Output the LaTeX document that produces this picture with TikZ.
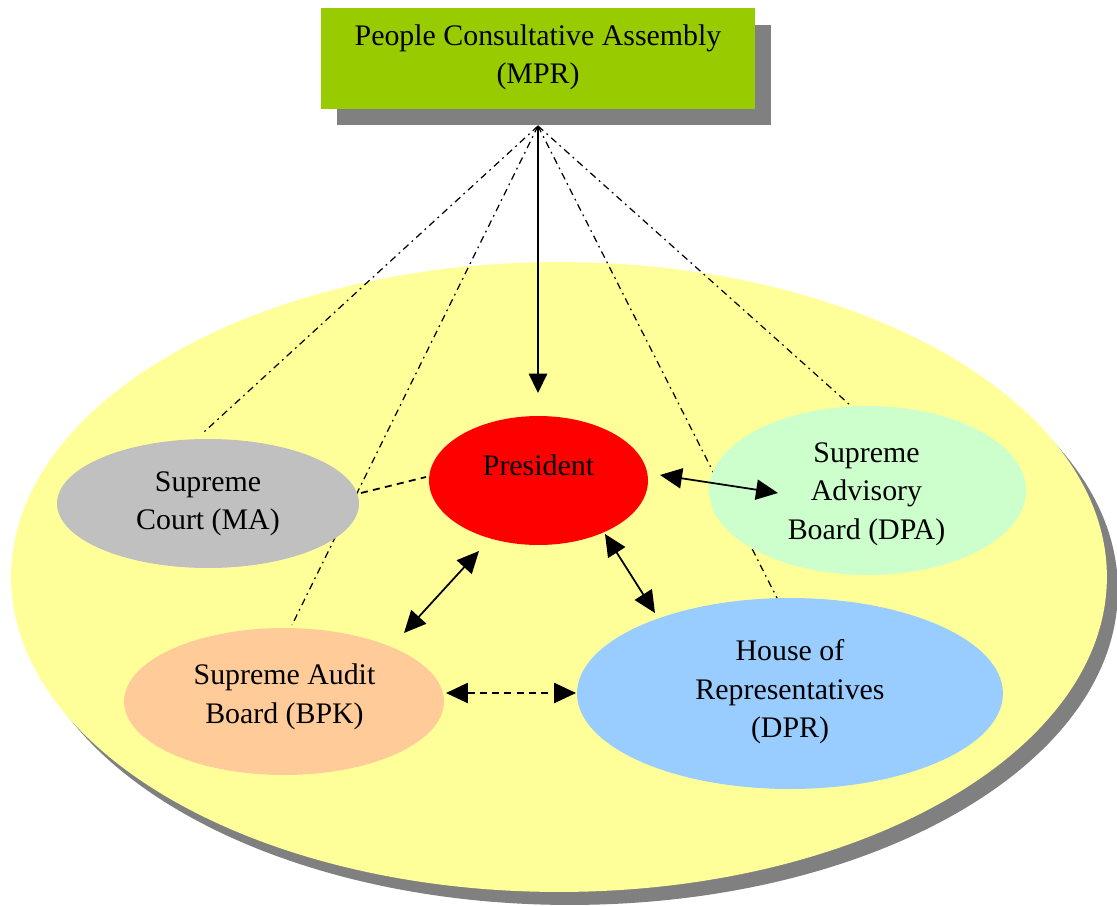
\documentclass[tikz,border=0pt]{standalone}
\usepackage{fontspec}
\setmainfont{Liberation Serif}
\usetikzlibrary{arrows.meta,shapes.geometric}
\definecolor{mprgreen}{HTML}{99CC00}
\definecolor{shadowgray}{HTML}{808080}
\definecolor{bigyellow}{HTML}{FFFF99}
\definecolor{presred}{HTML}{FF0000}
\definecolor{courtgray}{HTML}{C0C0C0}
\definecolor{dpagreen}{HTML}{CCFFCC}
\definecolor{bpkpeach}{HTML}{FFCC99}
\definecolor{dprblue}{HTML}{99CCFF}
\begin{document}
\begin{tikzpicture}[x=0.02cm,y=-0.02cm,
  blob/.style={ellipse,inner sep=0pt,outer sep=0pt,draw=none},
  boxshape/.style={rectangle,inner sep=0pt,outer sep=0pt,draw=none,minimum width=8.68cm,minimum height=2.02cm},
  lbl/.style={align=center,inner sep=0pt,font=\fontsize{17}{21.9}\selectfont},
  dashdot/.style={line width=0.7pt,dash pattern=on 4pt off 2.5pt on 1pt off 2.5pt},
  dashlink/.style={line width=1pt,dash pattern=on 4pt off 3pt},
  link/.style={line width=1pt,{Triangle[length=12.5pt,width=11.5pt]}-{Triangle[length=12.5pt,width=11.5pt]}},
  onelink/.style={line width=0.9pt,-{Triangle[length=11pt,width=10.5pt]}},
  dlink/.style={line width=1pt,dash pattern=on 4pt off 3pt,{Triangle[length=12.5pt,width=11.5pt]}-{Triangle[length=12.5pt,width=11.5pt]}}
]
\useasboundingbox (0,0) rectangle (1117,906);
\fill[white] (0,0) rectangle (1117,906);

% big ellipse with shadow
\node[blob,fill=shadowgray,minimum width=21.92cm,minimum height=12.6cm] (bigshadow) at (570,590) {};
\node[blob,fill=bigyellow,minimum width=21.92cm,minimum height=12.6cm] (big) at (559,577) {};

% MPR box with shadow
\node[boxshape,fill=shadowgray] (mprs) at (554,75) {};
\node[boxshape,fill=mprgreen] (mpr) at (538,58.5) {};
\node[lbl] (mprT) at (538,57.5) {People Consultative Assembly\\(MPR)};

% coordinates
\coordinate (top) at (538,126);
\coordinate (e1) at (204,432);
\coordinate (e2) at (292,625);
\coordinate (e3) at (778,600);
\coordinate (e4) at (850,405);

% dash-dot lines from MPR
\draw[dashdot] (top) -- (e1);
\draw[dashdot] (top) -- (e2);
\draw[dashdot] (top) -- (e3);
\draw[dashdot] (top) -- (e4);

% dashed line Supreme Court - President
\coordinate (sc1) at (361,493);
\coordinate (pr1) at (426,477);
\draw[dashlink] (sc1) -- (pr1);

% ellipses
\node[blob,fill=presred,minimum width=4.38cm,minimum height=2.58cm] (pres) at (538.5,480.5) {};
\node[blob,fill=courtgray,minimum width=6.04cm,minimum height=2.58cm] (sc) at (208,503.5) {};
\node[blob,fill=dpagreen,minimum width=6.34cm,minimum height=3.38cm] (dpa) at (867.5,490.5) {};
\node[blob,fill=bpkpeach,minimum width=6.4cm,minimum height=2.94cm] (bpk) at (284,701.5) {};
\node[blob,fill=dprblue,minimum width=8.52cm,minimum height=3.82cm] (dpr) at (790,693.5) {};

% texts
\node[lbl] (presT) at (538.5,465) {President};
\node[lbl] (scT) at (208,504) {Supreme\\Court (MA)};
\node[lbl] (dpaT) at (866.5,494) {Supreme\\Advisory\\Board (DPA)};
\node[lbl] (bpkT) at (284.5,697) {Supreme Audit\\Board (BPK)};
\node[lbl] (dprT) at (790,692) {House of\\Representatives\\(DPR)};

% arrows
\coordinate (a0) at (538,393);
\draw[onelink] (top) -- (a0);

\coordinate (pd1) at (660,475);
\coordinate (pd2) at (778,493);
\draw[link] (pd1) -- (pd2);

\coordinate (pb1) at (479,551);
\coordinate (pb2) at (404,633);
\draw[link] (pb1) -- (pb2);

\coordinate (pp1) at (605,534);
\coordinate (pp2) at (655,613);
\draw[link] (pp1) -- (pp2);

\coordinate (bd1) at (446,693);
\coordinate (bd2) at (576,693);
\draw[dlink] (bd1) -- (bd2);
\end{tikzpicture}
\end{document}
